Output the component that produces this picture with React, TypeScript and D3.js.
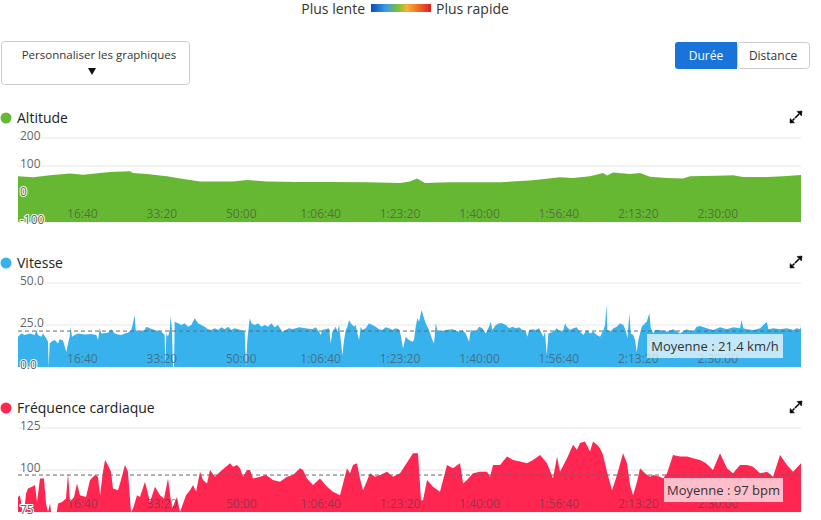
import React from "react";
import * as d3 from "d3";

// ---- data (elapsed seconds, value) ----
const altitudeTimes = [0, 189, 403, 655, 819, 1033, 1159, 1410, 1448, 1624, 1876, 2040, 2292, 2707, 2884, 3136, 3551, 3967, 4395, 4811, 4936, 5025, 5125, 5440, 6070, 6485, 6825, 6989, 7203, 7367, 7417, 7493, 7707, 7833, 7959, 8173, 8374, 8463, 8803, 9004, 9130, 9432, 9634, 9860];
const altitudeValues = [63, 60, 67, 73, 69, 75, 79, 81, 75, 71, 63, 55, 45, 45, 50, 45, 43, 43, 42, 39, 45, 55, 39, 42, 42, 49, 60, 57, 63, 75, 66, 77, 71, 75, 62, 57, 55, 63, 65, 67, 61, 61, 63, 68];

const speedTimes = [
  0, 42, 84, 147, 210, 231, 252, 294, 315, 357, 378, 386, 399, 420, 462, 504, 525, 567, 609, 630, 651, 663, 680, 714, 756, 840, 924, 987, 1008, 1029, 1050, 1133, 1175, 1217, 1259, 1301, 1343, 1385, 1427, 1448, 1469, 1482, 1511, 1595, 1616, 1658, 1721, 1805, 1847, 1855, 1868, 1889, 1910, 1923, 1939, 1952, 1965, 1973, 2015, 2057, 2099, 2141, 2183, 2225, 2267, 2309, 2351, 2393, 2435, 2477, 2519, 2561, 2603, 2645, 2687, 2729, 2771, 2813, 2855, 2871, 2888, 2918, 2939, 2981, 3023, 3065, 3107, 3149, 3190, 3232, 3274,
  3329, 3371, 3413, 3455, 3539, 3623, 3707, 3749, 3791, 3812, 3833, 3917, 3938, 3959, 4001, 4022, 4043, 4064, 4085, 4106, 4127, 4148, 4169, 4190, 4232, 4253, 4274, 4295, 4316, 4337, 4378, 4420, 4462, 4504, 4546, 4588, 4630, 4672, 4714, 4756, 4798, 4819, 4849, 4882, 4924, 4966, 4987, 5008, 5029, 5050, 5083, 5113, 5134, 5176, 5218, 5239, 5260, 5281, 5302, 5386, 5470, 5554, 5596, 5638, 5680, 5701, 5764, 5806, 5848, 5890, 5932, 5953, 5974, 6016, 6058, 6100, 6142, 6184, 6226, 6268, 6310, 6352, 6394, 6415, 6436, 6477, 6519, 6561,
  6616, 6637, 6658, 6679, 6742, 6784, 6826, 6868, 6889, 6910, 6952, 6994, 7036, 7057, 7078, 7120, 7162, 7204, 7246, 7288, 7330, 7372, 7393, 7409, 7422, 7456, 7498, 7540, 7582, 7624, 7657, 7674, 7699, 7716, 7749, 7770, 7791, 7812, 7854, 7896, 7917, 7951, 7968, 8001, 8022, 8085, 8169, 8253, 8337, 8421, 8505, 8547, 8589, 8673, 8757, 8841, 8925, 9009, 9093, 9110, 9135, 9177, 9261, 9345, 9429, 9450, 9513, 9597, 9681, 9765, 9806, 9848, 9860,
];
const speedValues = [
  18, 20, 19, 20, 19, 22, 19, 18, 20, 17, 15, 0, 14, 15, 16, 14, 16.5, 15.7, 9, 14, 18, 24, 18, 19, 20, 19.4, 19.6, 19, 16, 23, 20, 20.4, 22.4, 20, 19.4, 19, 20, 20.4, 22, 26, 31, 22, 21, 22, 24, 23, 22, 21, 19, 0, 20, 18, 22, 30.4, 22, 0, 0, 27, 26, 25, 26, 24, 25, 29, 26, 25, 24, 22.4, 22, 23, 22, 23.6, 22.4, 24, 22, 23, 22.4, 22, 21, 0, 16, 29, 26, 25, 26, 24, 25, 24, 26, 23.6, 25,
  21, 22, 23, 22.4, 23.6, 23, 22.4, 23.6, 21, 19, 22, 23, 14, 21, 24, 21, 25, 16, 7, 16, 22, 24, 28, 26, 24, 25, 20, 16, 24, 22, 23, 26, 25, 24, 22.4, 22, 23.6, 23, 22, 23, 22.4, 19, 11, 18, 16, 15, 16, 24, 29, 27, 34, 29, 26, 22, 16, 14, 26, 22, 21, 22, 22.4, 21, 22, 20, 15, 22, 21, 24, 23, 20, 24, 27, 22, 25, 26, 26, 25, 23, 24, 23, 23.6, 22, 21, 18, 22, 22.4, 22, 23,
  18, 21, 7, 20, 21, 23, 21, 22, 26, 24, 22, 23, 23.6, 22, 21, 19, 22, 20, 21, 19, 18, 22, 25, 37, 22, 21, 23, 24, 26, 25, 21, 17, 32, 20, 19, 16, 9, 16, 24, 26, 27, 32, 23, 20, 22, 22, 21, 22.4, 20, 22.4, 21, 24, 24.4, 23, 22, 23.6, 22.4, 23.6, 23, 28, 23, 22.4, 22, 23, 27, 22.4, 23, 22.4, 23, 22, 23, 22.4, 24,
];

const heartTimes = [0, 25, 50, 76, 101, 126, 176, 214, 239, 277, 327, 353, 378, 403, 428, 479, 504, 554, 604, 630, 655, 705, 743, 781, 856, 907, 970, 1007, 1033, 1070, 1096, 1133, 1171, 1196, 1259, 1297, 1347, 1385, 1423, 1448, 1499, 1536, 1599, 1662, 1725, 1788, 1839, 1889, 1939, 2002, 2040, 2116, 2166, 2204, 2242, 2292, 2330, 2380, 2418, 2481, 2544, 2619, 2670, 2707, 2758, 2796, 2833, 2884, 2922, 2959, 3048, 3123, 3211, 3299, 3388, 3463, 3551, 3589, 3639, 3715, 3803, 3891, 3967, 4055, 4143, 4181, 4219, 4269, 4307, 4345, 4433, 4496, 4559, 4647, 4722, 4811, 4974, 5037, 5075, 5100, 5151, 5226, 5314, 5402, 5478, 5566, 5604, 5654, 5730, 5818, 5906, 5944, 5982, 6070, 6158, 6234, 6322, 6410, 6485, 6574, 6662, 6737, 6788, 6825, 6914, 6989, 7039, 7077, 7140, 7203, 7241, 7291, 7329, 7367, 7417, 7480, 7543, 7619, 7669, 7707, 7745, 7795, 7833, 7896, 7959, 7997, 8085, 8123, 8173, 8248, 8337, 8425, 8500, 8588, 8664, 8752, 8840, 8928, 9004, 9092, 9180, 9256, 9344, 9432, 9508, 9596, 9684, 9760, 9860];
const heartValues = [84, 85, 77, 74, 86, 89, 90, 91, 81, 95, 95, 80, 75, 80, 72, 72, 80, 81, 83, 98, 81, 84, 92, 85, 84, 94, 97, 96, 85, 99, 106, 103, 99, 89, 88, 94, 103, 99, 75, 77, 85, 84, 93, 81, 90, 85, 83, 95, 77, 84, 75, 85, 88, 91, 87, 99, 94, 92, 100, 96, 99, 102, 104, 102, 103, 101, 96, 100, 100, 95, 96, 97, 94, 93, 96, 97, 101, 100, 95, 91, 95, 90, 87, 85, 101, 98, 103, 104, 95, 88, 98, 96, 97, 99, 96, 98, 110, 110, 82, 82, 94, 90, 87, 103, 101, 104, 92, 94, 98, 99, 99, 96, 103, 103, 108, 106, 105, 104, 106, 109, 104, 95, 108, 99, 107, 115, 112, 116, 117, 111, 117, 115, 113, 109, 99, 88, 97, 110, 104, 91, 85, 93, 101, 98, 96, 97, 96, 95, 98, 109, 108, 108, 107, 106, 104, 100, 110, 101, 98, 103, 103, 102, 98, 99, 96, 109, 103, 99, 104];

const xTickSeconds = [1000, 2000, 3000, 4000, 5000, 6000, 7000, 8000, 9000];
const altitudeTicks = [-100, 0, 100, 200];
const speedTicks = [0, 25, 50];
const heartTicks = [75, 100, 125];
const speedAverage = 21.4;
const heartAverage = 97;
const TOTAL_SECONDS = 9860;

const FONT = "'Open Sans', sans-serif";

function fmtTime(s: number) {
  const h = Math.floor(s / 3600);
  const m = Math.floor((s % 3600) / 60);
  const sec = s % 60;
  const p = (n: number) => String(n).padStart(2, "0");
  return h > 0 ? `${h}:${p(m)}:${p(sec)}` : `${m}:${p(sec)}`;
}

const X0 = 18;
const X1 = 801;
const x = d3.scaleLinear().domain([0, TOTAL_SECONDS]).range([X0, X1]);

function ExpandIcon({ cx, cy }: { cx: number; cy: number }) {
  return (
    <g transform={`translate(${cx},${cy})`} fill="#000" stroke="#000">
      <line x1={-1} y1={1} x2={3} y2={-3} strokeWidth={1.6} />
      <polygon points="6,-6 1,-5.5 5.5,-1" strokeWidth={0.5} />
      <line x1={-1.5} y1={1.5} x2={-3.5} y2={3.5} strokeWidth={1.6} />
      <polygon points="-6,6 -5.8,1.5 -1.5,5.8" strokeWidth={0.5} />
    </g>
  );
}

type Panel = {
  id: string;
  title: string;
  color: string;
  titleY: number;
  top: number;
  bottom: number;
  domain: [number, number];
  ticks: number[];
  tickFmt: (v: number) => string;
  times: number[];
  values: number[];
  average?: number;
  avgLabel?: string;
};

const panels: Panel[] = [
  { id: "alt", title: "Altitude", color: "#66b731", titleY: 118, top: 138, bottom: 222, domain: [-100, 200], ticks: altitudeTicks, tickFmt: (v) => String(v), times: altitudeTimes, values: altitudeValues },
  { id: "spd", title: "Vitesse", color: "#38b2ec", titleY: 263, top: 283, bottom: 367, domain: [0, 50], ticks: speedTicks, tickFmt: (v) => v.toFixed(1), times: speedTimes, values: speedValues, average: speedAverage, avgLabel: "Moyenne : 21.4 km/h" },
  { id: "hr", title: "Fréquence cardiaque", color: "#ff2651", titleY: 408, top: 428, bottom: 512, domain: [75, 125], ticks: heartTicks, tickFmt: (v) => String(v), times: heartTimes, values: heartValues, average: heartAverage, avgLabel: "Moyenne : 97 bpm" },
];

function ChartPanel({ p }: { p: Panel }) {
  const y = d3.scaleLinear().domain(p.domain).range([p.bottom, p.top]);
  const pts = p.times.map((t, i) => [t, p.values[i]] as [number, number]);
  const area = d3
    .area<[number, number]>()
    .x((d) => x(d[0]))
    .y0(p.bottom + 2)
    .y1((d) => y(d[1]));
  const avgY = p.average !== undefined ? y(p.average) : 0;
  const boxW = p.id === "spd" ? 136 : 119;
  return (
    <g>
      <defs>
        <clipPath id={`clip-${p.id}`}>
          <rect x={X0} y={p.top - 1} width={X1 - X0} height={p.bottom - p.top + 1} />
        </clipPath>
      </defs>
      <circle cx={6} cy={p.titleY} r={5.5} fill={p.color} />
      <text x={17} y={p.titleY} dy="0.35em" fontSize={14} fill="#222" fontFamily={FONT}>
        {p.title}
      </text>
      <ExpandIcon cx={796} cy={p.titleY - 1} />
      {p.ticks.map((t) => (
        <line key={t} x1={X0} x2={X1} y1={y(t)} y2={y(t)} stroke="#e6e6e6" strokeWidth={1} />
      ))}
      <path d={area(pts) || ""} fill={p.color} clipPath={`url(#clip-${p.id})`} />
      {p.average !== undefined && (
        <line x1={X0} x2={X1} y1={avgY} y2={avgY} stroke="#666" strokeWidth={1} strokeDasharray="4,3" />
      )}
      {p.ticks.map((t) => (
        <text
          key={t}
          x={20}
          y={y(t) - 2}
          dy="0.35em"
          fontSize={12}
          fill="#666"
          stroke="#fff"
          strokeWidth={2}
          strokeLinejoin="round"
          style={{ paintOrder: "stroke" }}
          fontFamily={FONT}
        >
          {p.tickFmt(t)}
        </text>
      ))}
      {xTickSeconds.map((s) => (
        <text
          key={s}
          x={x(s) - 15}
          y={p.bottom - 8}
          dy="0.35em"
          textAnchor="middle"
          fontSize={12}
          fill="#444"
          fillOpacity={0.6}
          fontFamily={FONT}
        >
          {fmtTime(s)}
        </text>
      ))}
      {p.avgLabel && (
        <g>
          <rect x={783 - boxW} y={avgY + 3} width={boxW} height={24} fill="#fff" fillOpacity={0.7} />
          <text x={783 - boxW / 2} y={avgY + 15} dy="0.35em" textAnchor="middle" fontSize={13} fill="#333" fontFamily={FONT}>
            {p.avgLabel}
          </text>
        </g>
      )}
    </g>
  );
}

export default function App() {
  return (
    <div style={{ position: "absolute", left: 0, top: 0, width: 821, height: 520, background: "#fff" }}>
      <svg width={821} height={520} style={{ display: "block" }}>
        <defs>
          <linearGradient id="speedGrad" x1="0" x2="1" y1="0" y2="0">
            <stop offset="0" stopColor="#0b4fb8" />
            <stop offset="0.25" stopColor="#3d9be6" />
            <stop offset="0.45" stopColor="#7cc234" />
            <stop offset="0.6" stopColor="#f2b43a" />
            <stop offset="0.75" stopColor="#f27a25" />
            <stop offset="1" stopColor="#dc1f26" />
          </linearGradient>
        </defs>
        <text x={365} y={9} dy="0.35em" textAnchor="end" fontSize={14} fill="#333" fontFamily={FONT}>Plus lente</text>
        <rect x={371} y={4} width={60} height={8} fill="url(#speedGrad)" />
        <text x={436} y={9} dy="0.35em" fontSize={14} fill="#333" fontFamily={FONT}>Plus rapide</text>

        <rect x={1.5} y={41.5} width={188} height={43} rx={3} fill="#fff" stroke="#ccc" />
        <text x={99} y={55} dy="0.35em" textAnchor="middle" fontSize={11.5} fill="#333" fontFamily={FONT}>Personnaliser les graphiques</text>
        <path d="M88,68 L96,68 L92,75 Z" fill="#111" />

        <rect x={737.5} y={42.5} width={72} height={26} rx={3} fill="#fff" stroke="#ccc" />
        <path d="M678,42 L737,42 L737,69 L678,69 Q675,69 675,66 L675,45 Q675,42 678,42 Z" fill="#1a73d8" />
        <text x={706} y={55.5} dy="0.35em" textAnchor="middle" fontSize={12} fill="#fff" fontFamily={FONT}>Durée</text>
        <text x={773} y={55.5} dy="0.35em" textAnchor="middle" fontSize={12} fill="#333" fontFamily={FONT}>Distance</text>

        {panels.map((p) => (
          <ChartPanel key={p.id} p={p} />
        ))}
      </svg>
    </div>
  );
}
